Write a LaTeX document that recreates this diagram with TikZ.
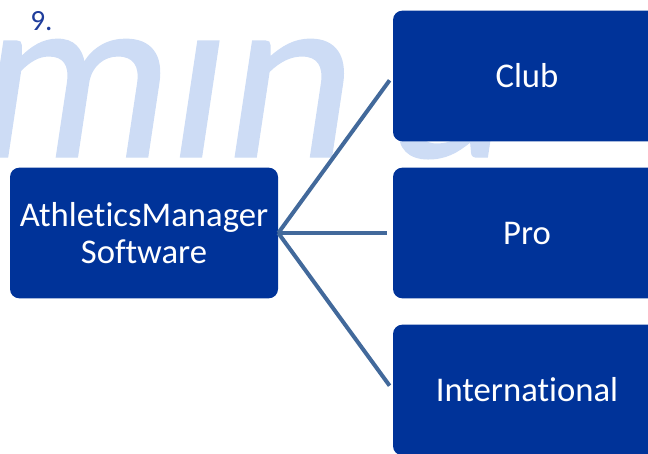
\documentclass[tikz,border=0pt]{standalone}
\usepackage{fontspec}
\setmainfont{Carlito}[Ligatures=NoCommon]
\newfontfamily\wmfont{Carlito}[FakeBold=0.6]
\usepackage{tikz}

\definecolor{boxblue}{RGB}{0,51,153}
\definecolor{linkblue}{RGB}{66,105,155}
\definecolor{wmblue}{RGB}{205,220,245}
\definecolor{numblue}{RGB}{30,60,155}

\begin{document}
\begin{tikzpicture}[x=0.75pt, y=-0.75pt,
    catbox/.style={fill=boxblue, rounded corners=7pt, minimum width=201pt, minimum height=98pt, inner sep=0pt, text=white, align=center, font=\fontsize{26}{28}\selectfont},
    link/.style={draw=linkblue, line width=3pt, shorten >=4pt}]
      \useasboundingbox (0,0) rectangle (648,453);
      \clip (0,0) rectangle (648,453);
      % watermark in the back
      \node[anchor=base west, inner sep=0pt, text=wmblue, xslant=0.15, transform shape, font=\wmfont\fontsize{182}{182}\selectfont] (wm) at (-31,157) {mın\kern30pt a};
      \node[anchor=base west, inner sep=0pt, text=numblue, font=\fontsize{22}{24}\selectfont] (num) at (30,31) {9.};
      % the boxes
      \node[catbox] (sw) at (144,233) {AthleticsManager\\Software};
      \node[catbox] (club) at (527,76) {Club};
      \node[catbox] (pro) at (527,233) {Pro};
      \node[catbox] (intl) at (527,390) {International};
      % lines
      \draw[link] (sw.east) -- (club.west);
      \draw[link] (sw.east) -- (pro.west);
      \draw[link] (sw.east) -- (intl.west);
\end{tikzpicture}
\end{document}
